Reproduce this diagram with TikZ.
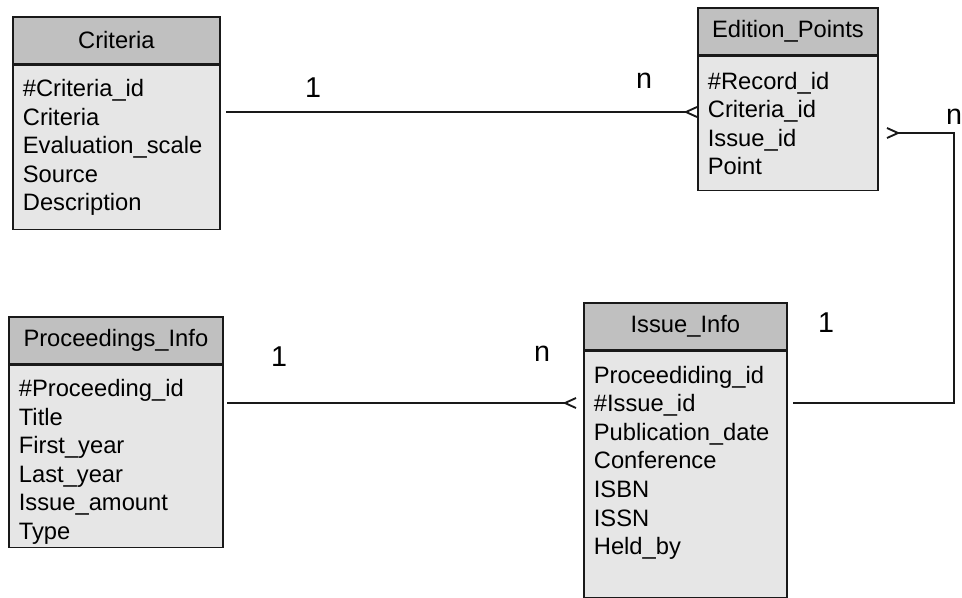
\documentclass[tikz,border=0pt]{standalone}
\usepackage{fontspec}
\setmainfont{Liberation Sans}
\definecolor{headgray}{RGB}{192,192,192}
\definecolor{bodygray}{RGB}{230,230,230}
\tikzset{
  tblhead/.style={draw=black!90, fill=headgray, line width=1.3pt, anchor=north west,
    minimum height=35.25pt, inner sep=0pt, font=\fontsize{17.8}{21.4}\selectfont},
  tblbody/.style={draw=black!90, fill=bodygray, line width=1.3pt, anchor=north west,
    inner xsep=7.5pt, inner ysep=0pt, align=left, font=\fontsize{17.8}{21.4}\selectfont},
  card/.style={font=\fontsize{21.5}{25}\selectfont, inner sep=0pt},
  rel/.style={line width=1.4pt, black!90},
  crowfoot/.pic={\draw[rel] (0,0) -- (11,-5) (0,0) -- (11,5);}
}
\begin{document}
\begin{tikzpicture}[x=0.75pt, y=-0.75pt]
  \useasboundingbox (0,0) rectangle (962,597);
  % Tables
  \node[tblhead, minimum width=155.25pt] (crithead) at (12,16) {Criteria};
  \node[tblbody, text width=140.25pt, minimum height=123pt] (critbody) at (crithead.south west)
    {\#Criteria\_id\\Criteria\\Evaluation\_scale\\Source\\Description};
  \node[tblhead, minimum width=135pt] (ephead) at (697,7) {Edition\_Points};
  \node[tblbody, text width=120pt, minimum height=100.5pt] (epbody) at (ephead.south west)
    {\#Record\_id\\Criteria\_id\\Issue\_id\\Point};
  \node[tblhead, minimum width=160.5pt] (prochead) at (8,316) {Proceedings\_Info};
  \node[tblbody, text width=145.5pt, minimum height=136.5pt] (procbody) at (prochead.south west)
    {\rule{0pt}{21pt}\#Proceeding\_id\\Title\\First\_year\\Last\_year\\Issue\_amount\\Type};
  \node[tblhead, minimum width=152.25pt] (isshead) at (583,302) {Issue\_Info};
  \node[tblbody, text width=137.25pt, minimum height=184.5pt] (issbody) at (isshead.south west)
    {Proceediding\_id\\\#Issue\_id\\Publication\_date\\Conference\\ISBN\\ISSN\\Held\_by\\\mbox{}};
  % Criteria -- Edition_Points
  \coordinate (critout) at (226,112);
  \coordinate (epin) at (critout -| epbody.west);
  \draw[rel] (critout) -- ([xshift=-8.25pt]epin);
  \pic at ([xshift=-8.25pt]epin) {crowfoot};
  \node[card] (critone) at (313,88) {1};
  \node[card] (epn) at (644,81) {n};
  % Proceedings_Info -- Issue_Info
  \coordinate (procout) at (227,403);
  \coordinate (issin) at (565,403);
  \draw[rel] (procout) -- (issin);
  \pic at (issin) {crowfoot};
  \node[card] (procone) at (279,357) {1};
  \node[card] (issn) at (542,354) {n};
  % Issue_Info -- Edition_Points
  \coordinate (issout) at (793,403);
  \coordinate (corner) at (954,403);
  \coordinate (epback) at (898,133);
  \draw[rel] (issout) -- (corner) -- (corner |- epback) -- (epback);
  \pic[xscale=-1] at (epback) {crowfoot};
  \node[card] (issone) at (826,323) {1};
  \node[card] (epn2) at (954,117) {n};
\end{tikzpicture}
\end{document}
